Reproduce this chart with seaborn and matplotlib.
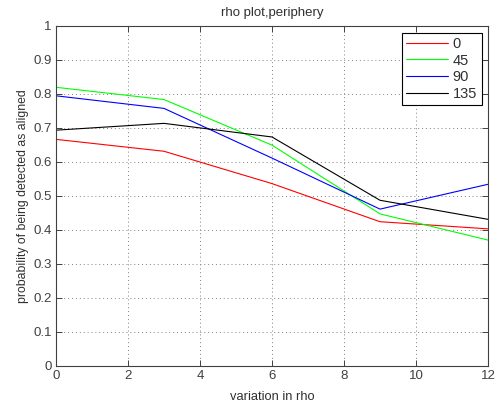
import numpy as np
import pandas as pd
import matplotlib
matplotlib.use("Agg")
import matplotlib.pyplot as plt
import seaborn as sns

x_vals = [0, 3, 6, 9, 12]
series_names = ["0", "45", "90", "135"]
v0 = [0.666, 0.631, 0.536, 0.424, 0.403]
v45 = [0.819, 0.783, 0.649, 0.447, 0.370]
v90 = [0.794, 0.757, 0.611, 0.461, 0.534]
v135 = [0.693, 0.713, 0.673, 0.487, 0.431]
colors = ["#ff0000", "#00ff00", "#0000ff", "#000000"]

rows = []
for name, vals in zip(series_names, [v0, v45, v90, v135]):
    for xv, yv in zip(x_vals, vals):
        rows.append({"x": xv, "y": yv, "series": name})
df = pd.DataFrame(rows)

sns.set_style("white")
plt.rcParams['font.family'] = ['Liberation Sans', 'DejaVu Sans']

fig = plt.figure(figsize=(5.04, 4.08), dpi=100)
ax = fig.add_axes([56/504, 1-366/408, (488-56)/504, (366-25.7)/408])

sns.lineplot(data=df, x="x", y="y", hue="series", hue_order=series_names,
             palette=colors, ax=ax, linewidth=0.8, legend=True)

ax.set_xlim(0, 12)
ax.set_ylim(0, 1)
ax.set_xticks(np.arange(0, 13, 2))
ax.set_yticks(np.arange(0, 1.01, 0.1))
ax.set_yticklabels(["0", "0.1", "0.2", "0.3", "0.4", "0.5", "0.6", "0.7", "0.8", "0.9", "1"])
ax.grid(True, linestyle=(0, (1, 3)), color="#808080", linewidth=0.7)
ax.tick_params(direction="in", length=4, width=0.7, colors="#404040",
               labelsize=9.5, top=True, right=True, bottom=True, left=True,
               labelcolor="#404040", pad=3)
for s in ax.spines.values():
    s.set_color("#404040")
    s.set_linewidth(0.8)

ax.set_xlabel("variation in rho", fontsize=9.3, color="#303030", labelpad=6)
ax.set_ylabel("probability of being detected as aligned", fontsize=8.8, color="#303030", labelpad=3)
ax.set_title("rho plot,periphery", fontsize=9.5, color="#303030", pad=7)

leg = ax.legend(loc="upper right", frameon=True, fancybox=False, fontsize=10.5,
                handlelength=2.9, borderpad=0.3, labelspacing=0.18,
                bbox_to_anchor=(0.985, 0.98), handletextpad=0.3, borderaxespad=0)
leg.get_frame().set_edgecolor("black")
leg.get_frame().set_linewidth(0.8)
leg.get_frame().set_alpha(1)
for t in leg.get_texts():
    t.set_color("#303030")

fig.savefig("out.png", dpi=100)
